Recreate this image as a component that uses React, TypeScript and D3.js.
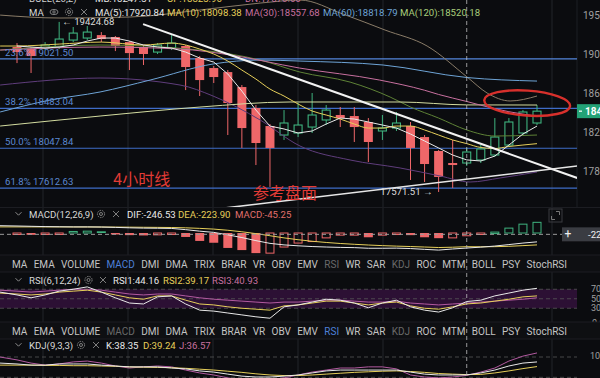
import React, { useEffect, useMemo } from 'react';
import * as d3 from 'd3';

const W = 600;
const H = 378;

// ---------- price candles (4h) ----------
const candleOpen = [19151,19129,19140,19151,19227,19249,19281,19260,19205,19151,19096,19140,19162,19031,18922,18878,18715,18486,18290,18192,18214,18279,18356,18410,18399,18334,18236,18268,18290,18170,18018,17887,17887,17920,17974,18083,18214,18323];
const candleHigh = [19194,19151,19205,19424.68,19369,19380,19314,19271,19216,19173,19194,19281,19173,19053,18944,18900,18737,18519,18312,18464,18541,18650,18519,18497,18497,18377,18410,18443,18334,18192,18029,18138,18051,18083,18377,18377,18464,18519];
const candleLow = [18976,18868,19118,19129,19205,19227,19205,19107,18900,18955,19075,19118,18682,18617,18759,18192,18051,17865,17626,18138,18170,18214,18301,18279,18116,17898,18138,18236,17702,17680,17571.51,17615,17855,17887,17953,18061,18192,18301];
const candleClose = [19096,19053,19173,19238,19303,19314,19238,19162,19085,19075,19173,19194,18933,18791,18824,18541,18268,18105,18051,18323,18301,18410,18464,18377,18279,18116,18268,18323,18051,17876,17735,17865,18007,18040,18170,18334,18443,18452];

// ---------- moving averages / bands ----------
const ma5 = [19162,19151,19140,19151,19173,19216,19249,19249,19216,19173,19151,19140,19096,19031,18987,18857,18671,18464,18290,18258,18214,18236,18312,18377,18366,18334,18301,18268,18203,18127,18051,17974,17920.84,17909,17963,18083,18203,18290];
const ma10Pts: [number, number][] = [[-1.2,19162],[0,19162],[3,19183],[6,19205],[9,19173],[11,19194],[12,19173],[13,19129],[14,19075],[15,18998],[16,18900],[17,18802],[18,18693],[19,18617],[20,18530],[21,18454],[22,18410],[23,18366],[24,18312],[25,18268],[26,18268],[27,18290],[28,18290],[29,18247],[30,18192],[31,18138],[32,18098.38],[33,18056],[34,18045],[35,18067],[36,18083],[37,18098]];
const ma30Pts: [number, number][] = [[-1.2,19118],[5.9,19151],[11.6,19129],[15.2,19064],[20.1,18922],[25.8,18791],[29,18680],[30,18634],[31,18595],[32,18557.68],[33,18517],[34,18479],[35,18446],[36,18420],[37,18396]];
const ma60Pts: [number, number][] = [[-1.2,18443],[2.35,18573],[5.91,18661],[9.47,18791],[13.95,18966],[17.3,19009],[20.14,18998],[26.05,18955],[32,18818.79],[37,18780]];
const ma120Pts: [number, number][] = [[-1.2,18290],[5.91,18399],[13.02,18497],[19.43,18552],[27.26,18552],[32,18520.18],[37,18519]];
const bollUpPts: [number, number][] = [[-1.2,19499],[3.06,19467],[8.04,19478],[13.02,19554],[17.3,19630],[20.14,19663],[23.2,19510],[26.19,19336],[29.18,19162],[32.03,18824],[33.45,18650],[35.09,18563],[37,18617]];
const bollMidPts: [number, number][] = [[-1.2,19118],[5.91,19173],[13.02,19118],[17.3,19009],[20.14,18878],[23.7,18769],[26.55,18606],[28,18497],[30,18377],[32,18247],[34,18181],[37,18192]];
const bollDnPts: [number, number][] = [[-1.2,18737],[5.91,18813],[11.6,18737],[13.95,18617],[17.3,18356],[20.14,18072],[23.7,17920],[27.26,17833],[30.1,17746],[32.24,17680],[34.38,17724],[37,17789]];

// hand-drawn trend lines [index, price]
const trendDown: [number, number][] = [[8.97,19401],[39.86,17724]];
const trendUp: [number, number][] = [[10,17310],[39.86,17855]];

// Fibonacci retracement
const fibRatios = ['23.6%', '38.2%', '50.0%', '61.8%'];
const fibPrices = [19021.50, 18483.04, 18047.84, 17612.63];

const priceTicks = [19500, 19075, 18650, 18225, 17800];

// ---------- MACD ----------
const macdHist = [-20,-30,-15,-10,25,30,28,-20,-35,-40,-30,-25,-65,-130,-160,-245,-280,-330,-330,-230,-165,-140,-80,-35,-35,-70,-35,-25,-35,-70,-85,-80,-45.25,-20,15,80,145,175];
// first value is the left edge, then one per candle
const macdDif = [120,115,110,105,102,100,100,98,92,85,80,78,75,55,30,10,-30,-75,-125,-170,-195,-210,-222,-230,-236,-240,-250,-250,-248,-255,-268,-280,-262,-246.53,-232,-214,-190,-165,-145];
const macdDea = [100,100,100,100,100,99,99,98,97,96,94,92,90,85,76,64,45,20,-10,-45,-80,-110,-135,-155,-172,-185,-197,-207,-215,-222,-230,-238,-233,-223.90,-226,-224,-218,-207,-195];

// ---------- RSI ----------
const rsi1 = [64,58,52,58,66,70,75,64,52,41,39,54,56,39,26,24,20,16,12,9,33,37,43,49,47,41,31,41,47,33,26,22,31,44.16,47,56,62,68,72];
const rsi2 = [62,60,58,60,64,66,68,64,58,52,49,56,56,47,39,37,33,30,28,26,35,37,41,45,45,41,37,41,43,35,30,28,33,39.17,41,45,49,54,56];
const rsi3 = [68,66,64,66,68,70,70,68,64,60,58,60,60,56,52,49,47,45,43,41,43,43,45,47,47,45,43,43,45,41,39,37,39,40.93,43,45,47,49,52];

// ---------- KDJ ----------
const kdjK = [79,76,72,72,76,76,76,72,69,66,66,66,62,59,52,48,41,34,31,31,34,38,45,52,55,55,55,55,55,48,41,38,38,38.35,45,55,69,79,83];
const kdjD = [72,72,72,71,71,70,70,69,68,66,65,64,63,61,58,55,51,47,42,38,36,36,38,41,44,47,49,51,52,50,47,43,41,39.24,40,45,52,60,67];
const kdjJ = [100,90,79,72,76,83,86,79,69,62,66,69,66,55,45,38,28,21,17,21,28,38,48,55,62,62,66,66,59,38,31,28,31,36.57,48,62,86,103,114];

const tabLabels = ['MA','EMA','VOLUME','MACD','DMI','DMA','TRIX','BRAR','VR','OBV','EMV','RSI','WR','SAR','KDJ','ROC','MTM','BOLL','PSY','StochRSI'];

const gridX = [43, 128, 213, 298, 383, 552];

const FONT = 'Roboto, "Noto Sans", sans-serif';
const BG = '#0b0c0f';
const RED = '#ef6769';
const GREEN = '#3fb37f';
const WHITE = '#e8e8e8';
const YELLOW = '#e6cf5a';
const PINK = '#c8709f';
const BLUE = '#6ea4d6';
const LGREEN = '#a9cf7c';
const DIM = '#6a6a6a';
const TAB = '#c4c4c4';
const ACTIVE = '#4d80d8';

const xIdx = d3.scaleLinear().domain([0, 37]).range([17, 537]);
const yPrice = d3.scaleLinear().domain([17800, 19500]).range([171, 15]);
const yMacd = d3.scaleLinear().domain([0, -300]).range([233, 251.3]);
const yRsi = d3.scaleLinear().domain([0, 100]).range([322.5, 275]);
const yKdj = d3.scaleLinear().domain([0, 100]).range([386, 357]);

const seriesIdx = (i: number) => (i === 0 ? -1.21 : i - 1);

function pathPts(pts: [number, number][], ys: (v: number) => number, curve = d3.curveMonotoneX) {
  return d3.line<[number, number]>().x(d => xIdx(d[0])).y(d => ys(d[1])).curve(curve)(pts) || '';
}
function pathSeries(vals: number[], ys: (v: number) => number, edge = true) {
  const pts: [number, number][] = vals.map((v, i) => [edge ? seriesIdx(i) : i, v]);
  return d3.line<[number, number]>().x(d => xIdx(d[0])).y(d => ys(d[1])).curve(d3.curveLinear)(pts) || '';
}

function Eye({ cx, cy }: { cx: number; cy: number }) {
  return (
    <g stroke="#8a8a8a" fill="none" strokeWidth={0.9}>
      <ellipse cx={cx} cy={cy} rx={4} ry={2.6} />
      <circle cx={cx} cy={cy} r={1.2} />
    </g>
  );
}
function Gear({ cx, cy }: { cx: number; cy: number }) {
  return (
    <g stroke="#8a8a8a" fill="none" strokeWidth={0.9}>
      <circle cx={cx} cy={cy} r={3.6} strokeDasharray="1.6,0.9" />
      <circle cx={cx} cy={cy} r={1.5} />
    </g>
  );
}
function Cross({ cx, cy }: { cx: number; cy: number }) {
  return (
    <g stroke="#8a8a8a" strokeWidth={0.9}>
      <line x1={cx - 3} y1={cy - 3} x2={cx + 3} y2={cy + 3} />
      <line x1={cx - 3} y1={cy + 3} x2={cx + 3} y2={cy - 3} />
    </g>
  );
}
function Chevron({ cy }: { cy: number }) {
  return <polyline points={`15.5,${cy - 1.8} 18.5,${cy + 1.2} 21.5,${cy - 1.8}`} fill="none" stroke="#9a9a9a" strokeWidth={0.9} />;
}

function TabRow({ y, active, dim }: { y: number; active: string; dim: string[] }) {
  const pos = useMemo(() => {
    const c = document.createElement('canvas').getContext('2d');
    const fs = 10;
    let widths = tabLabels.map(t => t.length * 6);
    if (c) {
      c.font = `${fs}px Roboto`;
      widths = tabLabels.map(t => c.measureText(t).width);
    }
    const start = 12, end = 567;
    const total = widths.reduce((a, b) => a + b, 0);
    const gap = (end - start - total) / (tabLabels.length - 1);
    const xs: number[] = [];
    let x = start;
    widths.forEach(w => { xs.push(x); x += w + gap; });
    return xs;
  }, []);
  return (
    <g>
      <rect x={0} y={y - 9} width={W} height={17} fill="#0e0f12" />
      <line x1={0} x2={W} y1={y - 9} y2={y - 9} stroke="#1c1d22" />
      <line x1={0} x2={W} y1={y + 8} y2={y + 8} stroke="#1c1d22" />
      {tabLabels.map((t, i) => (
        <text key={t} x={pos[i]} y={y + 3.5} fontSize={10} fontFamily={FONT}
          fill={t === active ? ACTIVE : dim.includes(t) ? DIM : TAB}>{t}</text>
      ))}
    </g>
  );
}

export default function App() {
  useEffect(() => {
    document.body.style.margin = '0';
    document.body.style.background = BG;
  }, []);

  const bodyW = 9;
  const lastClose = candleClose[candleClose.length - 1];
  const crossX = xIdx(32);
  const crossMacd = -22;

  return (
    <svg width={W} height={H} style={{ position: 'fixed', left: 0, top: 0, display: 'block' }} fontFamily={FONT}>
      <defs>
        <clipPath id="mainClip"><rect x={0} y={0} width={577} height={207} /></clipPath>
        <clipPath id="macdClip"><rect x={0} y={220} width={577} height={36} /></clipPath>
        <clipPath id="rsiClip"><rect x={0} y={284} width={577} height={39} /></clipPath>
        <clipPath id="kdjClip"><rect x={0} y={351} width={577} height={27} /></clipPath>
      </defs>
      <rect x={0} y={0} width={W} height={H} fill={BG} />

      {/* vertical grid */}
      {gridX.map(x => (
        <line key={x} x1={x} x2={x} y1={0} y2={H} stroke="#22242a" strokeWidth={1} />
      ))}
      <line x1={577} x2={577} y1={0} y2={207} stroke="#1d1f24" />

      {/* ================= MAIN PANEL ================= */}
      <g clipPath="url(#mainClip)">
        {fibPrices.map((p, i) => (
          <g key={p}>
            <line x1={0} x2={577} y1={yPrice(p)} y2={yPrice(p)} stroke={i === 0 ? '#5586dc' : '#3f6cc8'} strokeWidth={1.2} />
          </g>
        ))}

        {/* candles */}
        {candleOpen.map((o, i) => {
          const c = candleClose[i];
          const x = xIdx(i);
          const up = c >= o;
          const top = yPrice(Math.max(o, c));
          const bot = yPrice(Math.min(o, c));
          const hY = yPrice(candleHigh[i]);
          const lY = yPrice(candleLow[i]);
          const col = up ? GREEN : RED;
          return (
            <g key={i}>
              <line x1={x} x2={x} y1={hY} y2={top} stroke={col} strokeWidth={1} />
              <line x1={x} x2={x} y1={bot} y2={lY} stroke={col} strokeWidth={1} />
              {up ? (
                <rect x={x - bodyW / 2 + 0.5} y={top} width={bodyW - 1} height={Math.max(1, bot - top)} fill={BG} stroke={col} strokeWidth={1.1} />
              ) : (
                <rect x={x - bodyW / 2} y={top} width={bodyW} height={Math.max(1.5, bot - top)} fill={col} />
              )}
            </g>
          );
        })}

        {/* bollinger & MAs */}
        <path d={pathPts(bollUpPts, yPrice)} fill="none" stroke="#8a7c68" strokeWidth={1} />
        <path d={pathPts(bollMidPts, yPrice)} fill="none" stroke="#5e8236" strokeWidth={1} />
        <path d={pathPts(bollDnPts, yPrice)} fill="none" stroke="#5f3d7c" strokeWidth={1} />
        <path d={pathPts(ma120Pts, yPrice)} fill="none" stroke="#d3dca0" strokeWidth={1} />
        <path d={pathPts(ma60Pts, yPrice)} fill="none" stroke={BLUE} strokeWidth={1} />
        <path d={pathPts(ma30Pts, yPrice)} fill="none" stroke={PINK} strokeWidth={1} />
        <path d={pathPts(ma10Pts, yPrice)} fill="none" stroke={YELLOW} strokeWidth={1} />
        <path d={pathSeries(ma5, yPrice, false)} fill="none" stroke={WHITE} strokeWidth={1} />

        {/* trend lines */}
        <path d={pathPts(trendDown, yPrice, d3.curveLinear)} stroke="#f2f2f2" strokeWidth={2} fill="none" />
        <path d={pathPts(trendUp, yPrice, d3.curveLinear)} stroke="#e6e6e6" strokeWidth={1.6} fill="none" />

        {fibPrices.map((p, i) => (
          <text key={'fl' + p} x={5} y={yPrice(p) - 3} fontSize={9.6} fill="#5b88d2">{`${fibRatios[i]} ${p.toFixed(2)}`}</text>
        ))}

        {/* high / low markers */}
        <text x={xIdx(3) + 3} y={yPrice(19424.68) + 3.5} fontSize={9.6} fill="#dcdcdc">{'← 19424.68'}</text>
        <text x={xIdx(30) - 6} y={yPrice(17571.51) + 3.5} fontSize={9.6} fill="#dcdcdc" textAnchor="end">{'17571.51 →'}</text>

        {/* annotations */}
        <ellipse cx={xIdx(36.3)} cy={yPrice(18540)} rx={43} ry={12.5} fill="none" stroke="#d8302c" strokeWidth={2.4}
          transform={`rotate(4 ${xIdx(36.3)} ${yPrice(18540)})`} />
        <text x={xIdx(6.85)} y={yPrice(17650)} fontSize={16} fill="#e23b36" fontFamily='"Noto Sans CJK SC", sans-serif'>4小时线</text>
        <text x={xIdx(16.8)} y={yPrice(17490)} fontSize={16} fill="#e23b36" fontFamily='"Noto Sans CJK SC", sans-serif'>参考盘面</text>
      </g>

      {/* BOLL header, scrolled mostly out of view at the very top */}
      <g fontSize={9.6}>
        <text x={29} y={1.5} fill="#cfcfcf">BOLL(20,2)</text>
        <text x={95} y={1.5} fill={WHITE}>MB:18247.31</text>
        <text x={167} y={1.5} fill={YELLOW}>UP:18823.96</text>
        <text x={245} y={1.5} fill={PINK}>DN:17670.66</text>
      </g>

      {/* main header */}
      <g fontSize={9.6}>
        <text x={29} y={15.5} fill="#d8d8d8">MA</text>
        <Eye cx={54} cy={12} />
        <Gear cx={69} cy={12} />
        <Cross cx={84} cy={12} />
        <text x={95} y={15.5} fill={WHITE}>MA(5):17920.84</text>
        <text x={167} y={15.5} fill={YELLOW}>MA(10):18098.38</text>
        <text x={245} y={15.5} fill={PINK}>MA(30):18557.68</text>
        <text x={323} y={15.5} fill={BLUE}>MA(60):18818.79</text>
        <text x={400} y={15.5} fill={LGREEN}>MA(120):18520.18</text>
      </g>

      {/* right price axis */}
      {priceTicks.map(t => (
        <text key={t} x={583} y={yPrice(t) + 3.5} fontSize={10} fill="#a0a0a0">{t.toFixed(2)}</text>
      ))}
      <rect x={577} y={yPrice(lastClose) - 7} width={23} height={14} fill="#23a276" />
      <line x1={579} x2={582} y1={yPrice(lastClose)} y2={yPrice(lastClose)} stroke="#fff" strokeWidth={1.2} />
      <text x={585} y={yPrice(lastClose) + 3.7} fontSize={10} fontWeight="bold" fill="#ffffff">{lastClose.toFixed(2)}</text>

      <line x1={0} x2={W} y1={207.5} y2={207.5} stroke="#1c1d22" />

      {/* ================= MACD ================= */}
      <g fontSize={9.6}>
        <Chevron cy={214} />
        <text x={29} y={217.5} fill="#d8d8d8">MACD(12,26,9)</text>
        <Gear cx={101} cy={214} />
        <Cross cx={116} cy={214} />
        <text x={127} y={217.5} fill={WHITE}>DIF:-246.53</text>
        <text x={178} y={217.5} fill={YELLOW}>DEA:-223.90</text>
        <text x={235} y={217.5} fill="#e0706c">MACD:-45.25</text>
      </g>
      <g clipPath="url(#macdClip)">
        {macdHist.map((v, i) => {
          const x = xIdx(i);
          const prev = i > 0 ? macdHist[i - 1] : v;
          const col = v >= 0 ? GREEN : RED;
          const y0 = yMacd(0);
          const y1 = yMacd(v);
          const top = Math.min(y0, y1);
          const h = Math.max(1.5, Math.abs(y1 - y0));
          const filled = v < prev;
          return filled ? (
            <rect key={i} x={x - bodyW / 2} y={top} width={bodyW} height={h} fill={col} />
          ) : (
            <rect key={i} x={x - bodyW / 2 + 0.5} y={top} width={bodyW - 1} height={h} fill="none" stroke={col} strokeWidth={1} />
          );
        })}
        <path d={pathSeries(macdDea, yMacd)} fill="none" stroke={YELLOW} strokeWidth={1} />
        <path d={pathSeries(macdDif, yMacd)} fill="none" stroke={WHITE} strokeWidth={1} />
      </g>
      {/* crosshair horizontal in MACD */}
      <line x1={0} x2={562} y1={yMacd(crossMacd)} y2={yMacd(crossMacd)} stroke="#9a9a9a" strokeDasharray="4,3" strokeWidth={1} />
      <rect x={562} y={yMacd(crossMacd) - 7} width={38} height={14} fill="#3a3c42" />
      <text x={568} y={yMacd(crossMacd) + 4} fontSize={12} fill="#f0f0f0" textAnchor="middle">+</text>
      <text x={588} y={yMacd(crossMacd) + 3.5} fontSize={9.6} fill="#f0f0f0">{`${crossMacd}.15`}</text>
      <g stroke="#777" fill="none" strokeWidth={1}>
        <rect x={549} y={209} width={13} height={13} stroke="#3a3b40" />
        <polyline points="556,211.5 559.5,211.5 559.5,215" />
        <polyline points="551.5,216 551.5,219.5 555,219.5" />
      </g>

      {/* tabs row 1 */}
      <TabRow y={264} active="MACD" dim={['RSI', 'KDJ']} />

      {/* ================= RSI ================= */}
      <g fontSize={9.6}>
        <Chevron cy={280} />
        <text x={29} y={283.5} fill="#d8d8d8">RSI(6,12,24)</text>
        <Gear cx={88.5} cy={280} />
        <Cross cx={103} cy={280} />
        <text x={113} y={283.5} fill={WHITE}>RSI1:44.16</text>
        <text x={163} y={283.5} fill={YELLOW}>RSI2:39.17</text>
        <text x={212} y={283.5} fill={PINK}>RSI3:40.93</text>
      </g>
      <rect x={0} y={yRsi(70)} width={577} height={yRsi(30) - yRsi(70)} fill="#2c1034" />
      {[70, 50, 30].map(v => (
        <line key={v} x1={0} x2={577} y1={yRsi(v)} y2={yRsi(v)} stroke="#555" strokeDasharray="4,3" strokeWidth={0.8} />
      ))}
      <g clipPath="url(#rsiClip)">
        <path d={pathSeries(rsi3, yRsi)} fill="none" stroke="#b25aa0" strokeWidth={1} />
        <path d={pathSeries(rsi2, yRsi)} fill="none" stroke={YELLOW} strokeWidth={1} />
        <path d={pathSeries(rsi1, yRsi)} fill="none" stroke={WHITE} strokeWidth={1} />
      </g>
      {[70, 50, 30].map(v => (
        <text key={'rl' + v} x={591} y={yRsi(v) + 3} fontSize={9} fill="#a0a0a0">{v}</text>
      ))}
      <text x={592} y={yRsi(0) + 3} fontSize={9} fill="#a0a0a0">0.00</text>

      {/* tabs row 2 */}
      <TabRow y={331} active="RSI" dim={['MACD', 'KDJ']} />

      {/* ================= KDJ ================= */}
      <g fontSize={9.6}>
        <Chevron cy={345} />
        <text x={29} y={348.5} fill="#d8d8d8">KDJ(9,3,3)</text>
        <Gear cx={81} cy={345} />
        <Cross cx={96} cy={345} />
        <text x={106} y={348.5} fill={WHITE}>K:38.35</text>
        <text x={143} y={348.5} fill={YELLOW}>D:39.24</text>
        <text x={179} y={348.5} fill={PINK}>J:36.57</text>
      </g>
      {[100, 30].map(v => (
        <line key={v} x1={0} x2={577} y1={yKdj(v)} y2={yKdj(v)} stroke="#555" strokeDasharray="4,3" strokeWidth={0.8} />
      ))}
      <g clipPath="url(#kdjClip)">
        <path d={pathSeries(kdjJ, yKdj)} fill="none" stroke="#b25aa0" strokeWidth={1} />
        <path d={pathSeries(kdjD, yKdj)} fill="none" stroke={YELLOW} strokeWidth={1} />
        <path d={pathSeries(kdjK, yKdj)} fill="none" stroke={WHITE} strokeWidth={1} />
      </g>
      <text x={590} y={yKdj(100) + 2} fontSize={9} fill="#a0a0a0">100.00</text>

      {/* crosshair vertical */}
      <line x1={crossX} x2={crossX} y1={0} y2={H} stroke="#c8c8c8" strokeDasharray="4,3" strokeWidth={1} opacity={0.75} />
    </svg>
  );
}
